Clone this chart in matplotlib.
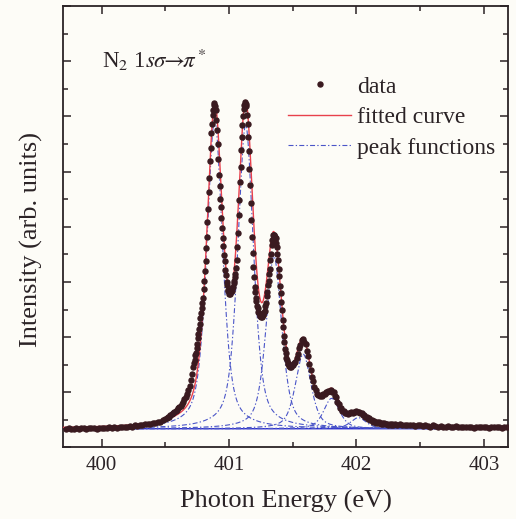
import numpy as np
import matplotlib
matplotlib.use("Agg")
import matplotlib.pyplot as plt
from matplotlib.lines import Line2D
from matplotlib.ticker import MultipleLocator, NullFormatter

plt.rcParams['font.family'] = ['Liberation Serif', 'DejaVu Serif']
plt.rcParams['mathtext.fontset'] = 'stix'

# ---------------- data ----------------
# segment 1: 399.72 .. 400.50, step 0.02
seg1_start, seg1_step = 399.72, 0.02
seg1_y = [0.34, 0.35, 0.33, 0.34, 0.35, 0.34, 0.35, 0.36, 0.34, 0.35,
          0.35, 0.36, 0.34, 0.35, 0.36, 0.35, 0.36, 0.38, 0.36, 0.37,
          0.36, 0.37, 0.38, 0.37, 0.38, 0.39, 0.38, 0.40, 0.39, 0.40,
          0.41, 0.42, 0.42, 0.43, 0.44, 0.45, 0.46, 0.47, 0.50, 0.52]
# segment 2: 400.51 .. 400.71, step 0.01
seg2_start, seg2_step = 400.51, 0.01
seg2_y = [0.53, 0.55, 0.56, 0.58, 0.60, 0.62, 0.64, 0.66, 0.68, 0.71,
          0.73, 0.76, 0.79, 0.83, 0.87, 0.91, 0.97, 1.04, 1.12, 1.22,
          1.33]
# segment 3: 400.720 .. 401.500, step 0.005
seg3_start, seg3_step = 400.72, 0.005
seg3_y = [1.45, 1.53, 1.58, 1.67, 1.72, 1.81, 1.88, 1.98, 2.05, 2.15,
          2.24, 2.35, 2.43, 2.53, 2.61, 2.71, 2.87, 3.01, 3.20, 3.38,
          3.61, 3.82, 4.09, 4.33, 4.63, 4.89, 5.19, 5.43, 5.69, 5.87,
          6.03, 6.11, 6.20, 6.24, 6.19, 6.11, 5.93, 5.76, 5.49, 5.23,
          4.94, 4.73, 4.51, 4.35, 4.15, 3.98, 3.79, 3.65, 3.48, 3.37,
          3.22, 3.12, 3.00, 2.94, 2.86, 2.83, 2.79, 2.80, 2.79, 2.83,
          2.84, 2.89, 2.91, 2.98, 3.01, 3.09, 3.14, 3.26, 3.39, 3.63,
          3.89, 4.21, 4.49, 4.81, 5.09, 5.39, 5.62, 5.85, 6.00, 6.14,
          6.20, 6.26, 6.23, 6.18, 6.03, 5.87, 5.62, 5.37, 5.05, 4.76,
          4.43, 4.13, 3.81, 3.53, 3.27, 3.09, 2.91, 2.81, 2.70, 2.65,
          2.56, 2.53, 2.46, 2.44, 2.39, 2.39, 2.36, 2.38, 2.37, 2.40,
          2.40, 2.45, 2.47, 2.56, 2.62, 2.74, 2.82, 2.94, 3.02, 3.14,
          3.24, 3.39, 3.51, 3.67, 3.76, 3.85, 3.85, 3.85, 3.81, 3.79,
          3.70, 3.63, 3.50, 3.39, 3.23, 3.10, 2.93, 2.80, 2.63, 2.49,
          2.31, 2.18, 2.02, 1.91, 1.78, 1.71, 1.62, 1.59, 1.53, 1.52,
          1.48, 1.49, 1.46, 1.48, 1.46, 1.49, 1.49]
# segment 4: 401.51 .. 402.30, step 0.01
seg4_start, seg4_step = 401.51, 0.01
seg4_y = [1.53, 1.55, 1.62, 1.69, 1.80, 1.86, 1.94, 1.96, 1.92, 1.87,
          1.75, 1.65, 1.51, 1.41, 1.28, 1.20, 1.09, 1.04, 0.97, 0.96,
          0.93, 0.95, 0.94, 0.97, 0.97, 1.00, 1.00, 1.03, 1.02, 1.04,
          1.01, 1.00, 0.94, 0.91, 0.83, 0.79, 0.72, 0.71, 0.66, 0.66,
          0.62, 0.63, 0.61, 0.63, 0.62, 0.64, 0.63, 0.65, 0.64, 0.66,
          0.64, 0.65, 0.62, 0.62, 0.58, 0.59, 0.55, 0.56, 0.52, 0.53,
          0.50, 0.50, 0.47, 0.48, 0.45, 0.47, 0.44, 0.46, 0.43, 0.45,
          0.42, 0.44, 0.42, 0.43, 0.41, 0.43, 0.41, 0.42, 0.40, 0.42]
# segment 5: 402.32 .. 403.18, step 0.02
seg5_start, seg5_step = 402.32, 0.02
seg5_y = [0.41, 0.42, 0.40, 0.41, 0.40, 0.41, 0.40, 0.39, 0.41, 0.40,
          0.39, 0.40, 0.39, 0.38, 0.40, 0.39, 0.38, 0.39, 0.38, 0.38,
          0.39, 0.37, 0.38, 0.39, 0.37, 0.38, 0.37, 0.38, 0.37, 0.38,
          0.36, 0.37, 0.38, 0.37, 0.37, 0.38, 0.36, 0.37, 0.37, 0.38,
          0.37, 0.36, 0.37, 0.38]

# fitted peak functions (pseudo-Voigt)
peak_centers = [400.887, 401.130, 401.352, 401.582, 401.805, 402.015]
peak_heights = [5.60, 5.50, 3.12, 1.35, 0.55, 0.20]
peak_hwhm = [0.073, 0.073, 0.073, 0.073, 0.073, 0.073]
peak_eta = 0.55
baseline = 0.34

x_ticks_major = [400, 401, 402, 403]
xlim = (399.70, 403.19)
ylim = (0, 8)

# ---------------- build series ----------------
segments = [(seg1_start, seg1_step, seg1_y), (seg2_start, seg2_step, seg2_y),
            (seg3_start, seg3_step, seg3_y), (seg4_start, seg4_step, seg4_y),
            (seg5_start, seg5_step, seg5_y)]
x_data = np.concatenate([s + st * np.arange(len(v)) for s, st, v in segments])
y_data = np.concatenate([np.asarray(v, float) for _, _, v in segments])

xf = np.linspace(xlim[0], xlim[1], 1500)


def pvoigt(x, c, a, w, eta):
    r = ((x - c) / w) ** 2
    return a * (eta / (1 + r) + (1 - eta) * np.exp(-np.log(2) * r))


comps = [pvoigt(xf, c, a, w, peak_eta) for c, a, w in zip(peak_centers, peak_heights, peak_hwhm)]
fit = baseline + np.sum(comps, axis=0)

# ---------------- draw ----------------
bg = '#fdfcf7'
fig = plt.figure(figsize=(5.16, 5.19), dpi=100, facecolor=bg)
ax = fig.add_axes([0.123, 0.1378, 0.8616, 0.8507], facecolor=bg)

blue = '#4a55c8'
ax.plot(xf, np.full_like(xf, baseline), color='#2a2ad0', lw=1.0, zorder=2)
for comp in comps:
    ax.plot(xf, baseline + comp, color=blue, lw=0.8, dashes=(4.5, 2, 1.2, 2), zorder=2)
ax.plot(xf, fit, color='#e8404c', lw=1.0, zorder=3)
ax.plot(x_data, y_data, 'o', ms=3.6, color='#3a1a20', mec='#3a1a20', zorder=4)

ax.set_xlim(*xlim)
ax.set_ylim(*ylim)
ax.set_xticks(x_ticks_major)
ax.xaxis.set_minor_locator(MultipleLocator(0.5))
ax.yaxis.set_major_locator(MultipleLocator(1))
ax.yaxis.set_minor_locator(MultipleLocator(0.5))
ax.yaxis.set_major_formatter(NullFormatter())

tc = '#2b2326'
ax.tick_params(which='both', direction='in', top=True, right=True, color=tc, width=1.1)
ax.tick_params(which='major', length=6, labelsize=15, pad=6, labelcolor=tc)
ax.tick_params(which='minor', length=3.5)
for sp in ax.spines.values():
    sp.set_linewidth(1.3)
    sp.set_color(tc)

ax.set_xlabel('Photon Energy (eV)', fontsize=19, color=tc)
ax.set_ylabel('Intensity (arb. units)', fontsize=19, color=tc)
ax.xaxis.set_label_coords(0.5, -0.095)
ax.yaxis.set_label_coords(-0.045, 0.472)

ax.text(0.086, 0.859, r'N$_2$ 1$s\sigma\!\!\rightarrow\!\!\pi^*$', transform=ax.transAxes,
        fontsize=16.5, color=tc, va='baseline', ha='left')

handles = [Line2D([], [], ls='none', marker='o', ms=3.6, color='#3a1a20'),
           Line2D([], [], color='#e8404c', lw=1.0),
           Line2D([], [], color=blue, lw=0.8, dashes=(4.5, 2, 1.2, 2))]
leg = ax.legend(handles, ['data', 'fitted curve', 'peak functions'], loc='upper left',
                bbox_to_anchor=(0.505, 0.841), frameon=False, fontsize=17,
                handlelength=2.67, handletextpad=0.25, labelspacing=0.38,
                borderpad=0, borderaxespad=0, numpoints=1)
for t in leg.get_texts():
    t.set_color(tc)

fig.savefig('out.png', dpi=100, facecolor=bg)
